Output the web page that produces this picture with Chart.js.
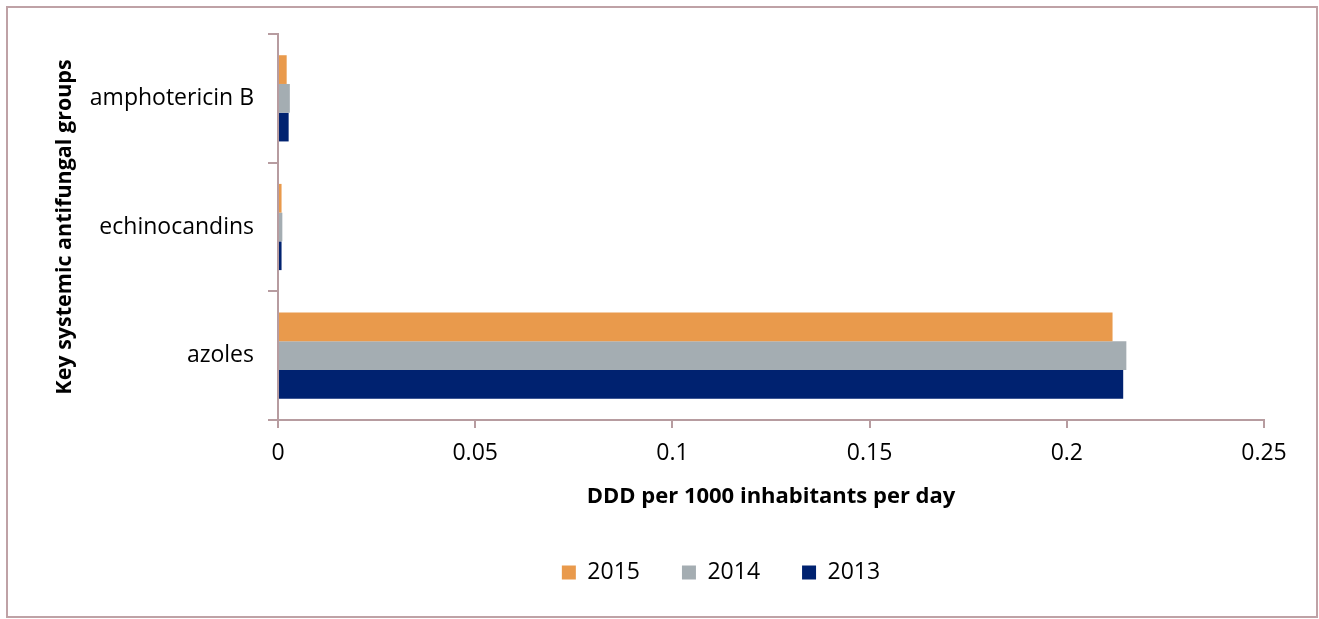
<!DOCTYPE html>
<html>
<head>
<meta charset="utf-8">
<script src="https://cdn.jsdelivr.net/npm/chart.js@4"></script>
<style>
  html, body { margin: 0; padding: 0; background: #fff; }
  #frame {
    position: absolute; left: 6px; top: 6px;
    width: 1308px; height: 608px;
    border: 2px solid #bfa2a6;
  }
  #wrap { position: absolute; left: 0; top: 0; width: 1319px; height: 619px; }
</style>
</head>
<body>
<div id="frame"></div>
<div id="wrap"><canvas id="chart" width="1319" height="619"></canvas></div>
<script>
// Dữ liệu
const groups = ['amphotericin B', 'echinocandins', 'azoles'];
const years = ['2015', '2014', '2013'];
const values2015 = [0.0022, 0.0009, 0.2116];
const values2014 = [0.0030, 0.0011, 0.2151];
const values2013 = [0.0027, 0.0009, 0.2143];
const xTicks = [0, 0.05, 0.1, 0.15, 0.2, 0.25];

const axisColor = '#b79ca0';
const fontFamily = '"Open Sans", sans-serif';

// Dời chú giải cho giống hình gốc
const legendShift = {
    id: 'legendShift',
    afterLayout(chart) {
        const lg = chart.legend;
        if (!lg) return;
        lg.left += 63;
        lg.right += 63;
        lg.top += 5;
        lg.bottom += 5;
        lg.adjustHitBoxes();
    }
};

const ctx = document.getElementById('chart').getContext('2d');
const chart = new Chart(ctx, {
    type: 'bar',
    data: {
        labels: groups,
        datasets: [
            { label: years[0], data: values2015, backgroundColor: '#e99a4c' },
            { label: years[1], data: values2014, backgroundColor: '#a4adb2' },
            { label: years[2], data: values2013, backgroundColor: '#002270' }
        ]
    },
    plugins: [legendShift],
    options: {
        indexAxis: 'y',
        responsive: false,
        animation: false,
        categoryPercentage: 0.67,
        barPercentage: 1,
        layout: { padding: { left: 52, top: 34, right: 55, bottom: 30 } },
        plugins: {
            tooltip: { enabled: false },
            legend: {
                position: 'bottom',
                labels: {
                    font: { family: fontFamily, size: 23 },
                    color: '#000',
                    boxWidth: 14,
                    boxHeight: 14,
                    padding: 42
                }
            }
        },
        scales: {
            x: {
                min: 0,
                max: 0.25,
                afterBuildTicks: s => { s.ticks = xTicks.map(v => ({ value: v })); },
                afterFit: s => { s.height = 94; },
                border: { color: axisColor, width: 2 },
                grid: { drawOnChartArea: false, color: axisColor, lineWidth: 2, tickLength: 8 },
                ticks: {
                    color: '#000',
                    padding: 12,
                    font: { family: fontFamily, size: 23 },
                    callback: v => String(v)
                },
                title: {
                    display: true,
                    text: 'DDD per 1000 inhabitants per day',
                    color: '#000',
                    font: { family: fontFamily, size: 22, weight: 'bold' },
                    padding: { top: 4, bottom: 4 }
                }
            },
            y: {
                afterFit: s => { s.width = 226; },
                border: { color: axisColor, width: 2 },
                grid: { drawOnChartArea: false, color: axisColor, lineWidth: 2, tickLength: 10, offset: true },
                ticks: {
                    color: '#000',
                    padding: 14,
                    font: { family: fontFamily, size: 23 }
                },
                title: {
                    display: true,
                    text: 'Key systemic antifungal groups',
                    color: '#000',
                    font: { family: fontFamily, size: 21.5, weight: 'bold' },
                    padding: { top: 0, bottom: 0 }
                }
            }
        }
    }
});
</script>
</body>
</html>
